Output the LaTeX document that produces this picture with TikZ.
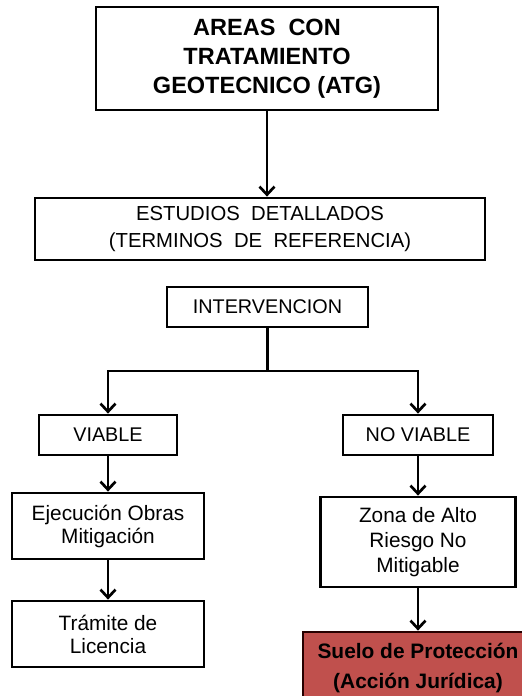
\documentclass[tikz,border=0pt]{standalone}
\usepackage{fontspec}
\setmainfont{Liberation Sans}
\usetikzlibrary{arrows.meta}
\definecolor{suelored}{HTML}{C0504D}
\begin{document}
\begin{tikzpicture}[x=1pt,y=-1pt,
  boxnode/.style={rectangle, draw=black, line width=2.8pt, fill=white, align=center, inner sep=0pt},
  conn/.style={line width=2.7pt, draw=black},
  arr/.style={conn, -{Straight Barb[length=8pt,width=15pt,line width=2.7pt]}}]
\path[use as bounding box] (0,0) rectangle (522,696);
\fill[white] (0,0) rectangle (522,696);
\begin{scope}
\clip (0,0) rectangle (522,696);
\node[boxnode, minimum width=342pt, minimum height=103pt, font=\fontsize{23.5}{29}\selectfont\bfseries] (top) at (267,58.5)
  {AREAS\ \ CON\\TRATAMIENTO\\GEOTECNICO (ATG)};
\node[boxnode, minimum width=450pt, minimum height=62pt, font=\fontsize{20.3}{27}\selectfont] (est) at (260,229)
  {ESTUDIOS\ \ DETALLADOS\\(TERMINOS\ \ DE\ \ REFERENCIA)};
\node[boxnode, minimum width=201pt, minimum height=40pt, font=\fontsize{19.8}{24}\selectfont] (int) at (267.5,307)
  {INTERVENCION};
\node[boxnode, minimum width=138pt, minimum height=40pt, font=\fontsize{19.8}{24}\selectfont] (via) at (108,435)
  {VIABLE};
\node[boxnode, minimum width=150pt, minimum height=40pt, font=\fontsize{19.8}{24}\selectfont] (nov) at (418,435)
  {NO VIABLE};
\node[boxnode, minimum width=192pt, minimum height=66pt, font=\fontsize{20.8}{23}\selectfont] (eje) at (108,526)
  {Ejecución Obras\\Mitigación};
\node[boxnode, minimum width=192pt, minimum height=66pt, font=\fontsize{20.8}{23}\selectfont] (tra) at (108,634)
  {Trámite de\\Licencia};
\node[boxnode, minimum width=195pt, minimum height=90pt, font=\fontsize{20.8}{25}\selectfont] (zon) at (418,542)
  {Zona de Alto\\Riesgo No\\Mitigable};
\node[boxnode, fill=suelored, draw=black!85!red, minimum width=230pt, minimum height=72pt, font=\fontsize{20.9}{30}\selectfont\bfseries] (sue) at (418,668)
  {Suelo de Protección\\(Acción Jurídica)};
\coordinate (br) at (267,371);
\draw[arr] (top.south) -- (top.south |- est.north);
\draw[conn] (int.south) -- (int.south |- br);
\draw[arr] (int.south |- br) -| (via.north);
\draw[arr] (int.south |- br) -| (nov.north);
\draw[arr] (via.south) -- (eje.north);
\draw[arr] (eje.south) -- (tra.north);
\draw[arr] (nov.south) -- (zon.north);
\draw[arr] (zon.south) -- (sue.north);
\end{scope}
\end{tikzpicture}
\end{document}
